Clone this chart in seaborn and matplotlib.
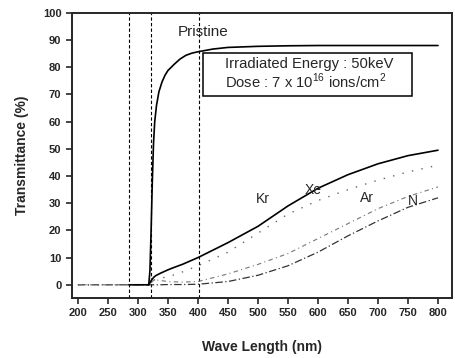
import numpy as np
import pandas as pd
import seaborn as sns
import matplotlib
matplotlib.use("Agg")
import matplotlib.pyplot as plt
from matplotlib.patches import Rectangle

# 데이터
wl_p = [285, 300, 318, 320, 322, 324, 326, 328, 331, 335, 340, 345, 350, 360, 370, 380, 390, 400, 425, 450, 500, 550, 600, 700, 800]
pristine = [0, 0, 0, 5, 20, 38, 52, 60, 66, 71, 74.5, 77, 78.8, 81, 83, 84.4, 85.2, 85.7, 86.7, 87.3, 87.7, 87.9, 88, 88, 88]

wl = [200, 250, 300, 318, 322, 325, 327, 330, 337, 350, 358, 375, 400, 450, 500, 550, 600, 650, 700, 750, 800]
kr = [0, 0, 0, 0, 1.5, 2.4, 2.9, 3.4, 4.2, 5.5, 6.2, 7.6, 10, 15.5, 21.5, 29, 35.5, 40.5, 44.5, 47.5, 49.5]
xe = [0, 0, 0, 0, 1, 1.5, 1.8, 2.0, 2.4, 3, 3.5, 4.8, 7, 12, 19, 26, 31, 35, 38.5, 41.5, 44]
ar = [0, 0, 0, 0, 0.8, 1.4, 1.7, 1.8, 1.6, 1.2, 1.1, 1.0, 1.2, 4, 7.5, 11.5, 17, 22.5, 28, 32.5, 36]
n_ion = [0, 0, 0, 0, 0, 0, 0, 0, 0, 0.1, 0.1, 0.1, 0.2, 1.2, 3.5, 7, 12, 18, 23.5, 28.5, 32]

vlines = [285, 322, 402]
xticks = list(range(200, 801, 50))
yticks = list(range(0, 101, 10))

sns.set_style("ticks")
plt.rcParams['font.family'] = ['Liberation Sans', 'DejaVu Sans']
plt.rcParams['mathtext.fontset'] = 'custom'
plt.rcParams['mathtext.rm'] = 'Liberation Sans'

fig, ax = plt.subplots(figsize=(4.55, 3.58), dpi=100)
fig.subplots_adjust(left=0.158, right=0.993, top=0.964, bottom=0.168)

for xv in vlines:
    ax.axvline(xv, color='black', linestyle=(0, (3, 2)), linewidth=0.8, zorder=1)

sns.lineplot(x=wl, y=n_ion, ax=ax, color='#333333', linestyle=(0, (6, 2, 1, 2)), linewidth=0.9)
sns.lineplot(x=wl, y=ar, ax=ax, color='#777777', linestyle=(0, (4, 3, 1, 3)), linewidth=0.8)
sns.lineplot(x=wl, y=xe, ax=ax, color='#666666', linestyle=(0, (1, 6)), linewidth=1.0)
sns.lineplot(x=wl[3:], y=kr[3:], ax=ax, color='black', linewidth=1.2)
sns.lineplot(x=wl_p, y=pristine, ax=ax, color='black', linewidth=1.2)

ax.text(367, 93, 'Pristine', fontsize=11, va='center', ha='left')
ax.text(497, 31.5, 'Kr', fontsize=10, va='center', ha='left')
ax.text(578, 35, 'Xe', fontsize=10, va='center', ha='left')
ax.text(670, 32, 'Ar', fontsize=10, va='center', ha='left')
ax.text(750, 31, 'N', fontsize=10, va='center', ha='left')

# 조사 조건 상자
ax.add_patch(Rectangle((408, 69.5), 349, 15.8, facecolor='white', edgecolor='black',
                       linewidth=1.1, zorder=4))
ax.text(445, 77.4, 'Irradiated Energy : 50keV\nDose : 7 x 10$^{16}$ ions/cm$^{2}$',
        fontsize=10.6, va='center', ha='left', linespacing=1.05, zorder=5)

ax.set_xlim(190, 823)
ax.set_ylim(-4.8, 100)
ax.set_xticks(xticks)
ax.set_yticks(yticks)
ax.tick_params(direction='out', length=4, width=1.2, labelsize=8)
for lab in ax.get_xticklabels() + ax.get_yticklabels():
    lab.set_fontweight('bold')
for sp in ax.spines.values():
    sp.set_visible(True)
    sp.set_linewidth(1.4)

ax.set_xlabel('Wave Length (nm)', fontsize=10, fontweight='bold', labelpad=16)
ax.set_ylabel('Transmittance (%)', fontsize=10, fontweight='bold', labelpad=10)

plt.savefig('out.png', dpi=100)
